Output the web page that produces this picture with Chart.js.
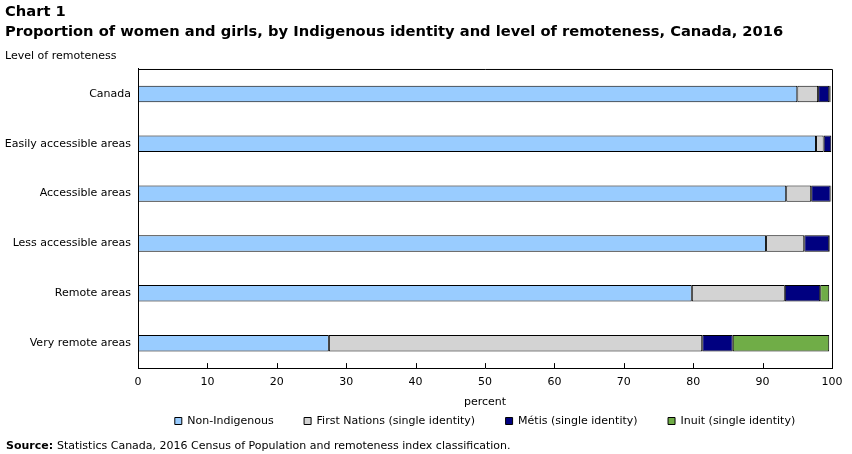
<!DOCTYPE html>
<html>
<head>
<meta charset="utf-8">
<style>
  html, body { margin: 0; padding: 0; background: #fff; }
  #wrap { width: 852px; height: 454px; }
</style>
</head>
<body>
<div id="wrap"><canvas id="remotenessChart"></canvas></div>
<script src="https://cdn.jsdelivr.net/npm/chart.js"></script>
<script>
const categories = ['Canada', 'Easily accessible areas', 'Accessible areas', 'Less accessible areas', 'Remote areas', 'Very remote areas'];
const seriesNames = ['Non-Indigenous', 'First Nations (single identity)', 'Métis (single identity)', 'Inuit (single identity)'];
const nonIndigenous = [95.0, 97.7, 93.4, 90.5, 79.8, 27.5];
const firstNations = [3.0, 1.1, 3.6, 5.5, 13.4, 53.8];
const metis = [1.6, 1.1, 2.8, 3.6, 5.1, 4.4];
const inuit = [0.2, 0.0, 0.1, 0.1, 1.3, 13.9];
const xTicks = [0, 10, 20, 30, 40, 50, 60, 70, 80, 90, 100];

(() => {
  const font = 'DejaVu Sans';
  const colors = ['#99ccff', '#d3d3d3', '#000080', '#70ad47'];
  const values = [nonIndigenous, firstNations, metis, inuit];

  // box round the plot area + short ticks pointing inwards
  const frame = {
    id: 'frame',
    afterDatasetsDraw(chart) {
      const { ctx, chartArea: a, scales: { x } } = chart;
      ctx.save();
      ctx.strokeStyle = '#000';
      ctx.lineWidth = 1;
      ctx.beginPath();
      ctx.moveTo(a.left, a.top + 0.5);
      ctx.lineTo(a.right + 0.5, a.top + 0.5);
      ctx.lineTo(a.right + 0.5, a.bottom);
      xTicks.slice(1, -1).forEach(v => {
        const px = Math.round(x.getPixelForValue(v)) + 0.5;
        ctx.moveTo(px, a.bottom);
        ctx.lineTo(px, a.bottom - 5);
      });
      ctx.stroke();
      ctx.restore();
    }
  };

  const source = {
    id: 'source',
    afterDraw(chart) {
      const ctx = chart.ctx;
      ctx.save();
      ctx.fillStyle = '#000';
      ctx.textBaseline = 'middle';
      ctx.font = 'bold 11px "' + font + '"';
      ctx.fillText('Source:', 6, 446);
      const w = ctx.measureText('Source: ').width;
      ctx.font = '11px "' + font + '"';
      ctx.fillText('Statistics Canada, 2016 Census of Population and remoteness index classification.', 6 + w, 446);
      ctx.restore();
    }
  };

  new Chart(document.getElementById('remotenessChart'), {
    type: 'bar',
    data: {
      labels: categories,
      datasets: seriesNames.map((name, i) => ({
        label: name,
        data: values[i],
        backgroundColor: colors[i],
        borderColor: '#000',
        borderWidth: 1,
        borderSkipped: false,
        barPercentage: 0.33,
        categoryPercentage: 1
      }))
    },
    options: {
      indexAxis: 'y',
      responsive: true,
      maintainAspectRatio: false,
      animation: false,
      layout: { padding: { left: 5, right: 20, top: 0, bottom: 17.5 } },
      plugins: {
        title: {
          display: true,
          align: 'start',
          text: ['Chart 1', 'Proportion of women and girls, by Indigenous identity and level of remoteness, Canada, 2016'],
          color: '#000',
          font: { family: font, size: 14.7, weight: 'bold', lineHeight: 1.35 },
          padding: { top: 2, bottom: 7.7 }
        },
        subtitle: {
          display: true,
          align: 'start',
          text: 'Level of remoteness',
          color: '#000',
          font: { family: font, size: 11, lineHeight: 1.2 },
          padding: { top: 0, bottom: 6.4 }
        },
        legend: {
          position: 'bottom',
          fullSize: false,
          labels: {
            color: '#000',
            font: { family: font, size: 11 },
            boxWidth: 7,
            boxHeight: 7,
            padding: 6,
            generateLabels(chart) {
              const items = Chart.defaults.plugins.legend.labels.generateLabels(chart);
              items.forEach((it, i) => { if (i < items.length - 1) it.text = it.text + '       '; });
              return items;
            }
          }
        },
        tooltip: { enabled: false }
      },
      scales: {
        x: {
          stacked: true,
          min: 0,
          max: 100,
          afterBuildTicks(scale) { scale.ticks = xTicks.map(v => ({ value: v })); },
          grid: { display: false, drawTicks: false },
          border: { display: true, color: '#000', width: 1 },
          ticks: { color: '#000', font: { family: font, size: 11 }, padding: 7, maxRotation: 0 },
          title: {
            display: true,
            text: 'percent',
            color: '#000',
            font: { family: font, size: 11, lineHeight: 1.2 },
            padding: { top: 0, bottom: 1 }
          }
        },
        y: {
          stacked: true,
          afterFit(scale) { scale.width = 133; },
          grid: { display: false, drawTicks: false },
          border: { display: true, color: '#000', width: 1 },
          ticks: { color: '#000', font: { family: font, size: 11 }, padding: 7 }
        }
      }
    },
    plugins: [frame, source]
  });
})();
</script>
</body>
</html>
